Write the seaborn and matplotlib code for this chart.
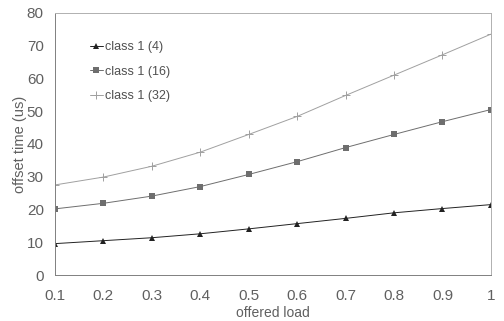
import matplotlib
matplotlib.use("Agg")
import matplotlib.pyplot as plt
import seaborn as sns
import pandas as pd

load = [0.1, 0.2, 0.3, 0.4, 0.5, 0.6, 0.7, 0.8, 0.9, 1.0]
class4 = [9.6, 10.5, 11.4, 12.6, 14.1, 15.7, 17.3, 19.0, 20.3, 21.5]
class16 = [20.2, 21.9, 24.1, 27.0, 30.7, 34.6, 38.9, 42.9, 46.8, 50.5]
class32 = [27.5, 29.9, 33.2, 37.5, 42.9, 48.4, 54.8, 61.0, 67.2, 73.5]
labels = ["class 1 (4)", "class 1 (16)", "class 1 (32)"]
xticks = [0.1, 0.2, 0.3, 0.4, 0.5, 0.6, 0.7, 0.8, 0.9, 1.0]
xticklabels = ["0.1", "0.2", "0.3", "0.4", "0.5", "0.6", "0.7", "0.8", "0.9", "1"]

sns.set_style("white")
plt.rcParams["font.family"] = ["Liberation Sans", "DejaVu Sans"]

fig = plt.figure(figsize=(5.04, 3.21), dpi=100)
ax = fig.add_axes([0.109, 0.143, 0.865, 0.817])

series = [class4, class16, class32]
colors = ["#222222", "#6e6e6e", "#a0a0a0"]
markers = ["^", "s", "+"]
for vals, lab, col, mk in zip(series, labels, colors, markers):
    df = pd.DataFrame({"load": load, "value": vals})
    sns.lineplot(data=df, x="load", y="value", ax=ax, color=col, marker=mk,
                 label=lab, linewidth=0.7, markersize=4 if mk != "+" else 6,
                 markeredgewidth=0.7 if mk == "+" else 0, markerfacecolor=col,
                 markeredgecolor=col)

ax.set_xlim(0.1, 1.0)
ax.set_ylim(0, 80)
ax.set_xticks(xticks)
ax.set_xticklabels(xticklabels)
ax.set_yticks(range(0, 81, 10))
txtc = "#606060"
ax.tick_params(axis="both", direction="in", length=3, width=0.6, colors="#999999",
               labelcolor=txtc, labelsize=11)
ax.tick_params(axis="x", pad=10)
ax.tick_params(axis="y", pad=8)
ax.set_xlabel("offered load", fontsize=10, color=txtc, labelpad=2)
ax.set_ylabel("offset time (us)", fontsize=10.5, color=txtc, labelpad=0)
for s in ax.spines.values():
    s.set_color("#b0b0b0")
    s.set_linewidth(0.7)
ax.spines["left"].set_color("#808080")
ax.spines["bottom"].set_color("#808080")

leg = ax.legend(loc="upper left", bbox_to_anchor=(0.055, 0.935), frameon=False,
                fontsize=9, handlelength=1.0, labelspacing=1.0, handletextpad=0.2)
for t in leg.get_texts():
    t.set_color("#505050")

fig.savefig("out.png", dpi=100)
